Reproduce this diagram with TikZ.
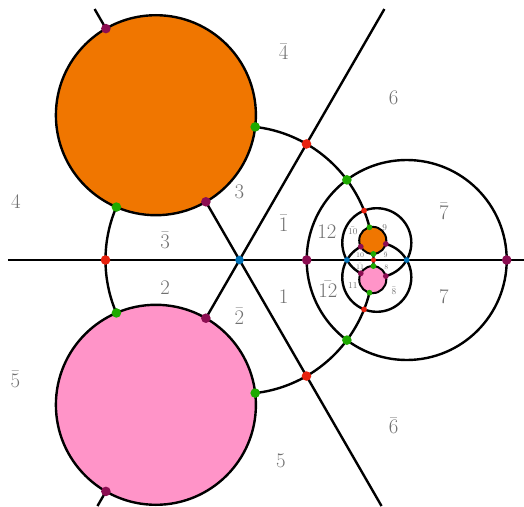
\documentclass[tikz,border=0pt]{standalone}
\usepackage{xcolor}
\usepackage{amsmath, amssymb}
\usepackage{tikz}
\usetikzlibrary{calc}

\definecolor{discorange}{RGB}{240,118,0}
\definecolor{discpink}{RGB}{255,148,200}
\definecolor{dotred}{RGB}{232,34,14}
\definecolor{dotgreen}{RGB}{30,170,0}
\definecolor{dotpurple}{RGB}{140,14,82}
\definecolor{dotblue}{RGB}{0,114,184}
\definecolor{labelgray}{RGB}{112,112,112}

\begin{document}
\begin{tikzpicture}[
        x=1pt, y=1pt,
        curve/.style={line width=2.4pt, draw=black},
        thincurve/.style={line width=2pt, draw=black},
        orangedisc/.style={curve, fill=discorange},
        pinkdisc/.style={curve, fill=discpink},
        vertex/.style={circle, draw=none, inner sep=0pt, minimum size=9.6pt},
        smallvertex/.style={vertex, minimum size=5.8pt},
        reddot/.style={vertex, fill=dotred},
        greendot/.style={vertex, fill=dotgreen},
        purpledot/.style={vertex, fill=dotpurple},
        bluedot/.style={vertex, fill=dotblue, minimum size=8.6pt},
        region/.style={text=labelgray, inner sep=0pt, font=\fontsize{20}{22}\selectfont},
        subregion/.style={text=labelgray, inner sep=0pt, font=\fontsize{9}{10}\selectfont},
        tinyregion/.style={text=labelgray, inner sep=0pt, font=\fontsize{7}{8}\selectfont}
    ]
    \useasboundingbox (-239.5,-246) rectangle (284.5,260);

    % Centre and ends of the three lines
    \coordinate (C) at (0,0);
    \coordinate (west) at (-231.5,0);
    \coordinate (east) at (284.5,0);
    \coordinate (ne) at (60:289.8);
    \coordinate (sw) at (240:284.1);
    \coordinate (nw) at (120:289.8);
    \coordinate (se) at (300:284.1);

    \draw[curve] (west) -- (east);
    \draw[curve] (sw) -- (ne);
    \draw[curve] (se) -- (nw);

    % Circle through the red points, and the mirror circle on the right
    \draw[curve] (C) circle [radius=134];
    \draw[curve] (167.2,0) circle [radius=100];

    % Images of the two slanted lines
    \draw[curve] (137.3,17.27) circle [radius=34.53];
    \draw[curve] (137.3,-17.27) circle [radius=34.53];

    % Big discs
    \draw[orangedisc] (120:167.2) circle [radius=100];
    \draw[pinkdisc] (240:167.2) circle [radius=100];

    % Small discs (their images)
    \draw[orangedisc, thincurve] (133.25,19.6) circle [radius=13.54];
    \draw[pinkdisc, thincurve] (133.25,-19.6) circle [radius=13.54];

    % Region labels
    \node[region] (l4b) at (44.1,208.2) {$\bar{4}$};
    \node[region] (l6) at (154.1,162) {$6$};
    \node[region] (l3) at (0,67.7) {$3$};
    \node[region] (l1b) at (44.1,36.6) {$\bar{1}$};
    \node[region] (l3b) at (-74.3,19.9) {$\bar{3}$};
    \node[region] (l2) at (-74.3,-27.6) {$2$};
    \node[region] (l4) at (-223.5,57.7) {$4$};
    \node[region] (l7b) at (204.3,48.6) {$\bar{7}$};
    \node[region] (l12) at (87.3,28.6) {$12$};
    \node[region] (l12b) at (88.5,-29.3) {$\bar{12}$};
    \node[region] (l1) at (44.1,-37) {$1$};
    \node[region] (l2b) at (0,-56) {$\bar{2}$};
    \node[region] (l7) at (204.3,-37) {$7$};
    \node[region] (l5b) at (-224.1,-119) {$\bar{5}$};
    \node[region] (l6b) at (154.1,-165.8) {$\bar{6}$};
    \node[region] (l5) at (41.5,-200.9) {$5$};

    \node[subregion] (l10b) at (113.3,29.2) {$\bar{10}$};
    \node[subregion] (l9) at (145.1,32.2) {$9$};
    \node[subregion] (l11) at (113.3,-26) {$11$};
    \node[subregion] (l8b) at (154.5,-31) {$\bar{8}$};
    \node[tinyregion] (l10) at (120.7,5.2) {$10$};
    \node[tinyregion] (l9b) at (146.1,5.2) {$\bar{9}$};
    \node[tinyregion] (l11b) at (120.7,-6.6) {$\bar{11}$};
    \node[tinyregion] (l8) at (146.8,-7.6) {$8$};

    % Points on the big picture
    \node[bluedot] (b0) at (C) {};
    \node[reddot] (r1) at (60:134) {};
    \node[reddot] (r2) at (180:134) {};
    \node[reddot] (r3) at (300:134) {};
    \node[greendot] (g1) at (83.27:134) {};
    \node[greendot] (g2) at (156.73:134) {};
    \node[greendot] (g3) at (203.27:134) {};
    \node[greendot] (g4) at (276.73:134) {};
    \node[greendot] (g5) at (36.73:134) {};
    \node[greendot] (g6) at (-36.73:134) {};
    \node[purpledot] (p1) at (120:67.2) {};
    \node[purpledot] (p2) at (120:267.2) {};
    \node[purpledot] (p3) at (240:67.2) {};
    \node[purpledot] (p4) at (240:267.2) {};
    \node[purpledot] (p5) at (67.2,0) {};
    \node[purpledot] (p6) at (267.2,0) {};

    % Points on the small picture
    \node[bluedot, smallvertex] (b1) at (107.4,0) {};
    \node[bluedot, smallvertex] (b2) at (167.2,0) {};
    \node[reddot, smallvertex] (r4) at (124.55,49.37) {};
    \node[reddot, smallvertex] (r5) at (124.55,-49.37) {};
    \node[reddot, smallvertex, minimum size=5pt] (r6) at (134,0) {};
    \node[greendot, smallvertex] (g7) at (129.95,32.73) {};
    \node[greendot, smallvertex] (g8) at (133.86,6.08) {};
    \node[greendot, smallvertex] (g9) at (133.86,-6.08) {};
    \node[greendot, smallvertex] (g10) at (129.95,-32.73) {};
    \node[purpledot, smallvertex] (p7) at (121.26,13.32) {};
    \node[purpledot, smallvertex] (p8) at (146.32,16.07) {};
    \node[purpledot, smallvertex] (p9) at (121.26,-13.32) {};
    \node[purpledot, smallvertex] (p10) at (146.32,-16.07) {};

\end{tikzpicture}
\end{document}
